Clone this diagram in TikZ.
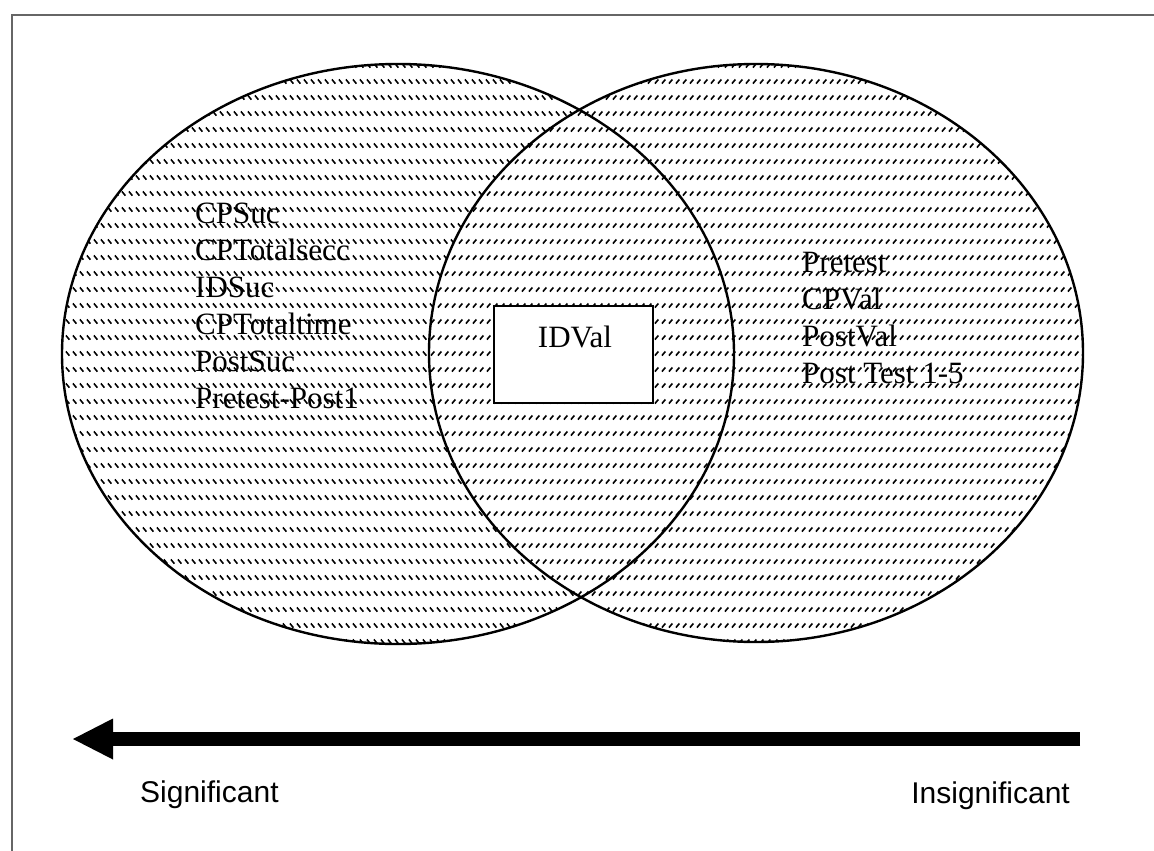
\documentclass[tikz,border=0pt]{standalone}
\usepackage{fontspec}
\setmainfont{Liberation Serif}
\newfontfamily\labelsans{Liberation Sans}
\usetikzlibrary{patterns,arrows.meta}
\pgfdeclarepatternformonly{dashback}{\pgfqpoint{0pt}{0pt}}{\pgfqpoint{7.3pt}{15.6pt}}{\pgfqpoint{7.3pt}{15.6pt}}{%
  \pgfsetlinewidth{1.7pt}%
  \pgfpathmoveto{\pgfqpoint{1pt}{9.8pt}}%
  \pgfpathlineto{\pgfqpoint{4.8pt}{5.5pt}}%
  \pgfusepath{stroke}}
\pgfdeclarepatternformonly{dashfwd}{\pgfqpoint{0pt}{0pt}}{\pgfqpoint{7.3pt}{15.6pt}}{\pgfqpoint{7.3pt}{15.6pt}}{%
  \pgfsetlinewidth{1.7pt}%
  \pgfpathmoveto{\pgfqpoint{1pt}{5.5pt}}%
  \pgfpathlineto{\pgfqpoint{4.8pt}{9.8pt}}%
  \pgfusepath{stroke}}
\begin{document}
\begin{tikzpicture}[x=1pt,y=-1pt,
  serifline/.style={anchor=base west,inner sep=0pt,font=\fontsize{31}{37}\selectfont},
  sansline/.style={anchor=base west,inner sep=0pt,font=\labelsans\fontsize{30}{36}\selectfont},
  setoutline/.style={draw=black,line width=2.4pt},
  framestroke/.style={draw=black!60,line width=1.5pt}]
\useasboundingbox (0,0) rectangle (1154,851);
\fill[white] (0,0) rectangle (1154,851);
% frame (runs off right and bottom)
\draw[framestroke] (12,851) -- (12,15) -- (1154,15);
% hatched sets
\fill[pattern=dashback,pattern color=black] (398,354) ellipse [x radius=336,y radius=290];
\fill[white] (756,353) ellipse [x radius=327,y radius=289];
\fill[pattern=dashfwd,pattern color=black] (756,353) ellipse [x radius=327,y radius=289];
\draw[setoutline] (398,354) ellipse [x radius=336,y radius=290];
\draw[setoutline] (756,353) ellipse [x radius=327,y radius=289];
% box
\node[draw=black,line width=2.4pt,fill=white,minimum width=159pt,minimum height=97pt,inner sep=0pt] (box) at (573.5,354.5) {};
\node[anchor=base,inner sep=0pt,font=\fontsize{31}{37}\selectfont] (idval) at (575,347) {IDVal};
% left texts
\node[serifline] (l1) at (195,223) {CPSuc};
\node[serifline] (l2) at (195,260) {CPTotalsecc};
\node[serifline] (l3) at (195,297) {IDSuc};
\node[serifline] (l4) at (195,334) {CPTotaltime};
\node[serifline] (l5) at (195,371) {PostSuc};
\node[serifline] (l6) at (195,408) {Pretest-Post1};
% right texts
\node[serifline] (r1) at (802,272) {Pretest};
\node[serifline] (r2) at (802,309) {CPVal};
\node[serifline] (r3) at (802,346) {PostVal};
\node[serifline] (r4) at (802,383) {Post Test 1-5};
% arrow
\coordinate (arrS) at (1080,739);
\coordinate (arrE) at (73,739);
\draw[line width=14pt,-{Triangle[length=40pt,width=41pt,line width=0pt]}] (arrS) -- (arrE);
\node[sansline] (sig) at (140,802) {Significant};
\node[sansline,anchor=base east] (insig) at (1070,803) {Insignificant};
\end{tikzpicture}
\end{document}
